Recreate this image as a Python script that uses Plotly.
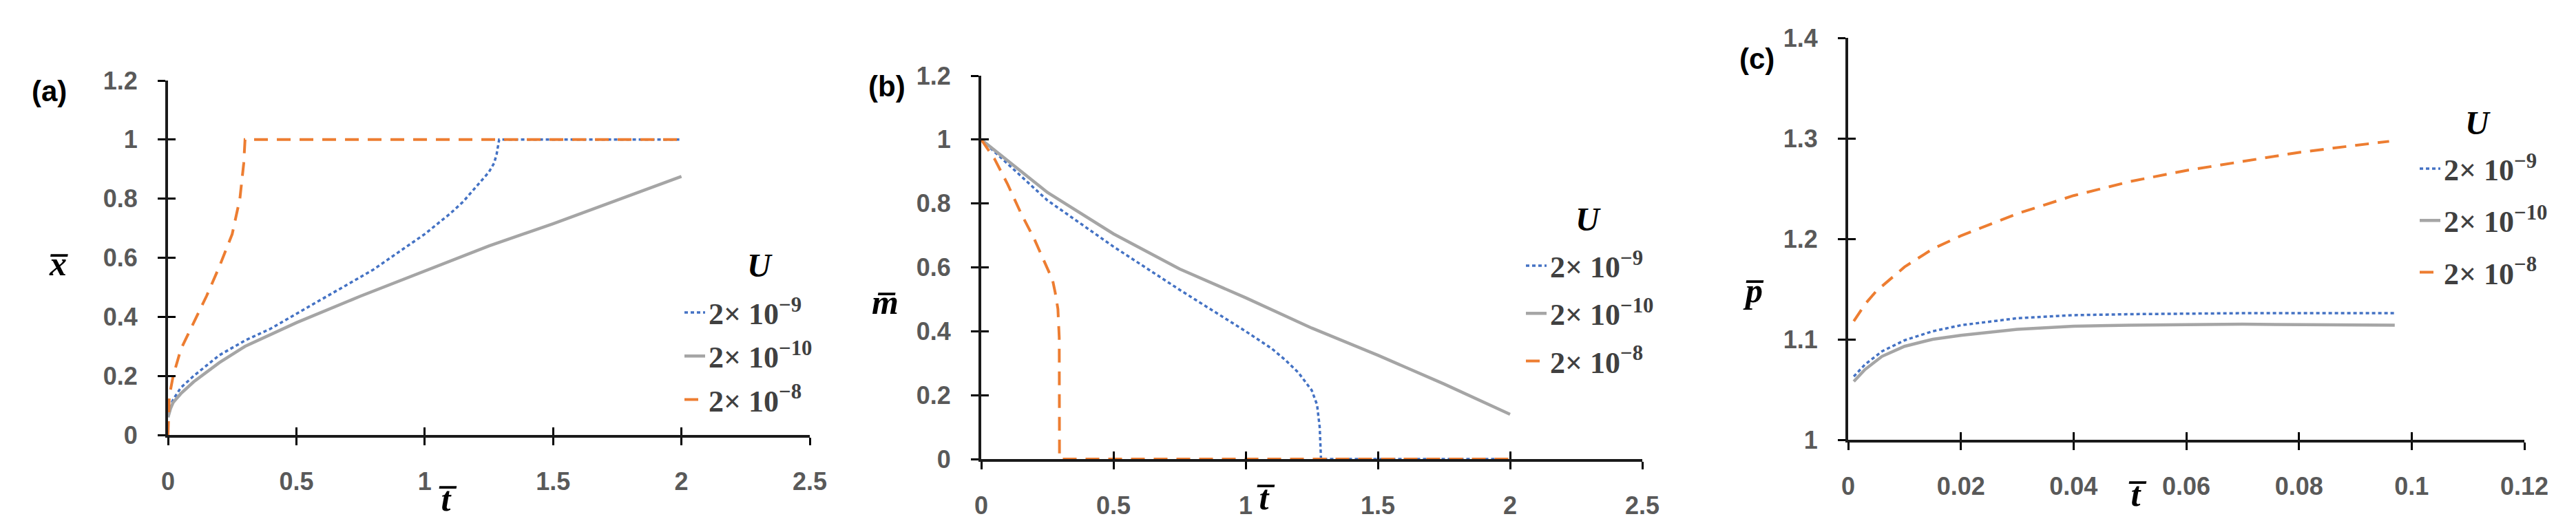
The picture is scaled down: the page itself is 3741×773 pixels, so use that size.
import plotly.graph_objects as go

# series labels (U values)
labels = ["2× 10<sup>−9</sup>", "2× 10<sup>−10</sup>", "2× 10<sup>−8</sup>"]

# (a) dimensionless position x vs t
a_t_blue = [0, 0.01, 0.02, 0.05, 0.1, 0.2, 0.3, 0.4, 0.5, 0.6, 0.7, 0.8, 0.9, 1.0, 1.1, 1.15, 1.2, 1.25, 1.27, 1.28, 1.29, 2.0]
a_x_blue = [0.07, 0.1, 0.12, 0.16, 0.2, 0.27, 0.32, 0.36, 0.41, 0.46, 0.51, 0.56, 0.62, 0.68, 0.75, 0.79, 0.84, 0.89, 0.92, 0.95, 1.0, 1.0]
a_t_gray = [0, 0.01, 0.02, 0.05, 0.1, 0.2, 0.3, 0.4, 0.5, 0.75, 1.0, 1.25, 1.5, 1.75, 2.0]
a_x_gray = [0.06, 0.09, 0.11, 0.14, 0.18, 0.245, 0.3, 0.34, 0.38, 0.47, 0.555, 0.64, 0.715, 0.795, 0.875]
a_t_orange = [0, 0.002, 0.005, 0.02, 0.05, 0.1, 0.15, 0.2, 0.25, 0.28, 0.295, 0.3, 2.0]
a_x_orange = [0, 0.09, 0.13, 0.2, 0.29, 0.38, 0.47, 0.57, 0.68, 0.8, 0.92, 1.0, 1.0]

# (b) dimensionless mass m vs t
b_t_blue = [0, 0.25, 0.5, 0.75, 1.0, 1.1, 1.15, 1.2, 1.25, 1.27, 1.28, 1.285, 2.0]
b_m_blue = [1.0, 0.81, 0.665, 0.53, 0.4, 0.345, 0.31, 0.27, 0.215, 0.17, 0.1, 0.0, 0.0]
b_t_gray = [0, 0.25, 0.5, 0.75, 1.0, 1.25, 1.5, 1.75, 2.0]
b_m_gray = [1.0, 0.835, 0.705, 0.595, 0.505, 0.41, 0.325, 0.235, 0.14]
b_t_orange = [0, 0.05, 0.1, 0.15, 0.2, 0.25, 0.27, 0.28, 0.29, 0.295, 0.296, 2.0]
b_m_orange = [1.0, 0.94, 0.86, 0.77, 0.69, 0.6, 0.56, 0.52, 0.47, 0.38, 0.0, 0.0]

# (c) dimensionless pressure p vs t
c_t_blue = [0.001, 0.003, 0.006, 0.01, 0.015, 0.02, 0.03, 0.04, 0.05, 0.07, 0.097]
c_p_blue = [1.063, 1.075, 1.088, 1.099, 1.108, 1.114, 1.121, 1.124, 1.125, 1.126, 1.126]
c_t_gray = [0.001, 0.003, 0.006, 0.01, 0.015, 0.02, 0.03, 0.04, 0.05, 0.07, 0.097]
c_p_gray = [1.058, 1.07, 1.083, 1.093, 1.1, 1.104, 1.11, 1.113, 1.114, 1.115, 1.114]
c_t_orange = [0.001, 0.003, 0.005, 0.01, 0.015, 0.02, 0.03, 0.04, 0.05, 0.06, 0.07, 0.08, 0.09, 0.096]
c_p_orange = [1.118, 1.135, 1.148, 1.172, 1.19, 1.203, 1.225, 1.243, 1.257, 1.268, 1.277, 1.286, 1.293, 1.297]

# ticks
ab_xticks = [0, 0.5, 1, 1.5, 2, 2.5]
ab_xtext = ["0", "0.5", "1", "1.5", "2", "2.5"]
ab_yticks = [0, 0.2, 0.4, 0.6, 0.8, 1, 1.2]
ab_ytext = ["0", "0.2", "0.4", "0.6", "0.8", "1", "1.2"]
c_xticks = [0, 0.02, 0.04, 0.06, 0.08, 0.1, 0.12]
c_xtext = ["0", "0.02", "0.04", "0.06", "0.08", "0.1", "0.12"]
c_yticks = [1, 1.1, 1.2, 1.3, 1.4]
c_ytext = ["1", "1.1", "1.2", "1.3", "1.4"]

W, H = 3741, 773

BLUE = "#4472C4"
GRAY = "#A5A5A5"
ORANGE = "#ED7D31"
styles = [
    dict(color=BLUE, width=3.5, dash="5px,4px"),
    dict(color=GRAY, width=4.5),
    dict(color=ORANGE, width=4, dash="20px,13px"),
]

panels = [
    dict(series=[(a_t_blue, a_x_blue), (a_t_gray, a_x_gray), (a_t_orange, a_x_orange)],
         xpx=(236, 1168), ypx=(624, 109), xr=[0, 2.5], yr=[0, 1.2],
         xt=(ab_xticks, ab_xtext), yt=(ab_yticks, ab_ytext),
         legend_px=(981, 411), gap=3, letter="(a)", letter_px=(63, 125),
         ytitle="x\u0305", ytitle_px=(77, 375), xtitle_px=(642, 717), u_px=(1095, 377)),
    dict(series=[(b_t_blue, b_m_blue), (b_t_gray, b_m_gray), (b_t_orange, b_m_orange)],
         xpx=(1417, 2377), ypx=(659, 102), xr=[0, 2.5], yr=[0, 1.2],
         xt=(ab_xticks, ab_xtext), yt=(ab_yticks, ab_ytext),
         legend_px=(2203, 343), gap=9, letter="(b)", letter_px=(1280, 117),
         ytitle="m\u0305", ytitle_px=(1277, 431), xtitle_px=(1830, 715), u_px=(2298, 310)),
    dict(series=[(c_t_blue, c_p_blue), (c_t_gray, c_p_gray), (c_t_orange, c_p_orange)],
         xpx=(2676, 3658), ypx=(631, 47), xr=[0, 0.12], yr=[1, 1.4],
         xt=(c_xticks, c_xtext), yt=(c_yticks, c_ytext),
         legend_px=(3501, 202), gap=15, letter="(c)", letter_px=(2543, 77),
         ytitle="p\u0305", ytitle_px=(2538, 414), xtitle_px=(3096, 710), u_px=(3590, 170)),
]


def px_x(v):
    return v / W


def px_y(v):
    return 1 - v / H


def label(pos, text, font):
    return dict(x=px_x(pos[0]), y=px_y(pos[1]), text=text, showarrow=False,
                xref="paper", yref="paper", xanchor="center", yanchor="middle", font=font)


fig = go.Figure()
tick_font = dict(family="Liberation Sans, Arial", size=36, color="#595959", weight="bold")
legend_font = dict(family="Liberation Serif, DejaVu Serif", size=44, color="#404040", weight="bold")
letter_font = dict(family="Liberation Sans, Arial", size=42, color="black", weight="bold")
title_font = dict(family="Liberation Serif, DejaVu Serif", size=50, color="black", weight="bold")
u_font = dict(family="Liberation Serif, DejaVu Serif", size=48, color="black", weight="bold")
annotations = []

for i, p in enumerate(panels):
    n = i + 1
    m = i + 4  # extra axis pair for the inner half of the crossing ticks
    legend_name = "legend" if n == 1 else f"legend{n}"
    for k, ((tx, ty), lab, st) in enumerate(zip(p["series"], labels, styles)):
        fig.add_trace(go.Scatter(
            x=tx, y=ty, mode="lines", name=lab, line=st,
            xaxis=f"x{n}" if n > 1 else "x", yaxis=f"y{n}" if n > 1 else "y",
            legend=legend_name, legendgroup=f"p{n}s{k}",
        ))
    fig.add_trace(go.Scatter(x=[None], y=[None], xaxis=f"x{m}", yaxis=f"y{m}",
                             showlegend=False, hoverinfo="skip"))

    xdom = [px_x(p["xpx"][0]), px_x(p["xpx"][1])]
    ydom = [px_y(p["ypx"][0]), px_y(p["ypx"][1])]
    common = dict(showgrid=False, zeroline=False, ticklen=11, tickwidth=3, tickcolor="black",
                  automargin=False)
    xa = dict(domain=xdom, range=p["xr"], anchor=f"y{n}" if n > 1 else "y",
              showline=True, linecolor="#1a1a1a", linewidth=4, layer="below traces",
              ticks="outside", tickvals=p["xt"][0], ticktext=p["xt"][1],
              tickfont=tick_font, ticklabelstandoff=22, **common)
    ya = dict(domain=ydom, range=p["yr"], anchor=f"x{n}" if n > 1 else "x",
              showline=True, linecolor="#1a1a1a", linewidth=4, layer="below traces",
              ticks="outside", tickvals=p["yt"][0], ticktext=p["yt"][1],
              tickfont=tick_font, ticklabelstandoff=22, **common)
    fig.layout[f"xaxis{n}" if n > 1 else "xaxis"] = xa
    fig.layout[f"yaxis{n}" if n > 1 else "yaxis"] = ya
    fig.layout[f"xaxis{m}"] = dict(domain=xdom, range=p["xr"], anchor=f"y{m}", ticks="inside",
                                   tickvals=p["xt"][0], showticklabels=False, showline=False, **common)
    fig.layout[f"yaxis{m}"] = dict(domain=ydom, range=p["yr"], anchor=f"x{m}", ticks="inside",
                                   tickvals=p["yt"][0], showticklabels=False, showline=False, **common)

    fig.layout[legend_name] = dict(
        x=px_x(p["legend_px"][0]), y=px_y(p["legend_px"][1]), xanchor="left", yanchor="top",
        font=legend_font, bgcolor="rgba(0,0,0,0)", traceorder="grouped",
        tracegroupgap=p["gap"], itemwidth=30,
    )

    annotations.append(label(p["letter_px"], p["letter"], letter_font))
    annotations.append(label(p["ytitle_px"], f"<i>{p['ytitle']}</i>", title_font))
    annotations.append(label(p["xtitle_px"], "<i>t\u0305</i>", title_font))
    annotations.append(label(p["u_px"], "<i>U</i>", u_font))

fig.update_layout(
    width=W, height=H, autosize=False,
    margin=dict(l=0, r=0, t=0, b=0),
    paper_bgcolor="white", plot_bgcolor="rgba(0,0,0,0)",
    annotations=annotations,
    showlegend=True,
)

fig.write_html("out.html")
